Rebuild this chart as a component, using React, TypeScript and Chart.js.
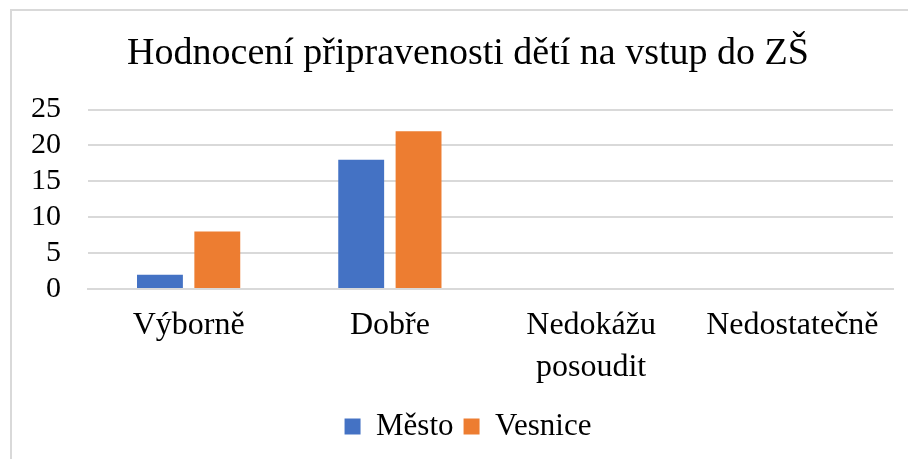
import React, { useEffect, useRef } from "react";
import { Chart, registerables } from "chart.js";

Chart.register(...registerables);

const TITLE = "Hodnocení připravenosti dětí na vstup do ZŠ";
const CATEGORIES: (string | string[])[] = ["Výborně", "Dobře", ["Nedokážu", "posoudit"], "Nedostatečně"];
const SERIES_NAMES = ["Město", "Vesnice"];
const MESTO = [2, 18, 0, 0];
const VESNICE = [8, 22, 0, 0];
const Y_MIN = 0;
const Y_MAX = 25;
const Y_STEP = 5;

const FONT = "'Liberation Serif', 'Times New Roman', serif";

export default function App() {
  const ref = useRef<HTMLCanvasElement | null>(null);
  useEffect(() => {
    if (!ref.current) return;
    const chart = new Chart(ref.current, {
      type: "bar",
      data: {
        labels: CATEGORIES,
        datasets: [
          { label: SERIES_NAMES[0], data: MESTO, backgroundColor: "#4472C4", categoryPercentage: 0.57, barPercentage: 0.8 },
          { label: SERIES_NAMES[1], data: VESNICE, backgroundColor: "#ED7D31", categoryPercentage: 0.57, barPercentage: 0.8 },
        ],
      },
      options: {
        responsive: false,
        animation: false,
        devicePixelRatio: 1,
        layout: { padding: { left: 28, right: 0, top: 0, bottom: 7 } },
        plugins: {
          title: {
            display: true,
            text: TITLE,
            color: "#000",
            font: { family: FONT, size: 38, weight: "normal", lineHeight: 1.2 },
            padding: { top: 31, bottom: 33 },
          },
          legend: {
            position: "bottom",
            labels: {
              color: "#000",
              font: { family: FONT, size: 31 },
              boxWidth: 16,
              boxHeight: 16,
              padding: 10,
            },
          },
          tooltip: { enabled: false },
        },
        scales: {
          x: {
            grid: { display: false, drawTicks: false },
            border: { display: true, color: "#d9d9d9", width: 2 },
            ticks: {
              color: "#000",
              font: { family: FONT, size: 32, lineHeight: 1.3 },
              padding: 16,
              maxRotation: 0,
              autoSkip: false,
            },
            afterFit: (scale: any) => {
              scale.height = 112;
            },
          },
          y: {
            min: Y_MIN,
            max: Y_MAX,
            grid: { color: "#d9d9d9", lineWidth: 2, drawTicks: false },
            border: { display: false },
            ticks: {
              stepSize: Y_STEP,
              autoSkip: false,
              color: "#000",
              font: { family: FONT, size: 30, lineHeight: 1.1 },
              padding: 27,
            },
            afterFit: (scale: any) => {
              scale.width = 60;
            },
          },
          yRight: {
            position: "right",
            display: true,
            grid: { display: false, drawTicks: false },
            border: { display: false },
            ticks: { display: false },
            afterFit: (scale: any) => {
              scale.width = 15;
            },
          },
        },
      },
    });
    return () => chart.destroy();
  }, []);

  return (
    <div style={{ position: "fixed", left: 0, top: 0, width: 908, height: 459, overflow: "hidden", background: "#fff" }}>
      <div
        style={{
          position: "absolute",
          left: 10,
          top: 9,
          width: 1000,
          height: 600,
          borderLeft: "2px solid #d9d9d9",
          borderTop: "2px solid #d9d9d9",
        }}
      />
      <canvas ref={ref} width={908} height={459} style={{ position: "absolute", left: 0, top: 0 }} />
    </div>
  );
}
